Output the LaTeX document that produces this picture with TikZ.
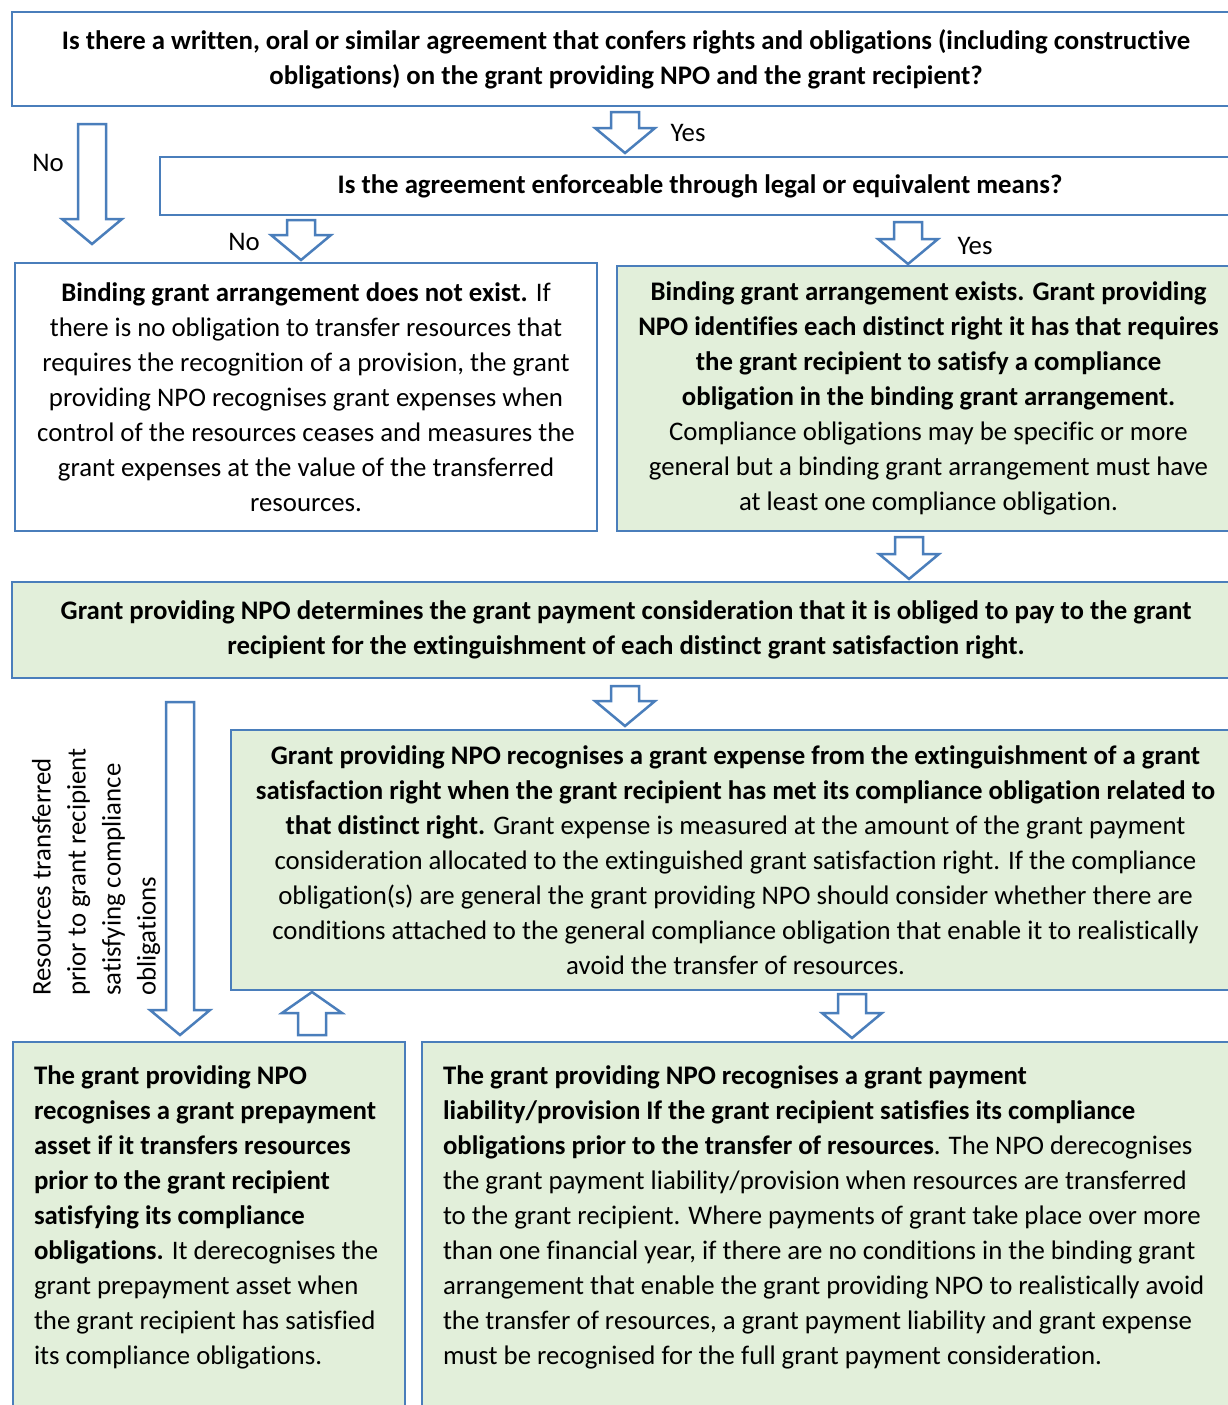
\documentclass[tikz,border=0pt]{standalone}
\usepackage{fontspec}
\setmainfont{Carlito}[Ligatures=NoCommon]
\usetikzlibrary{calc}

\definecolor{boxblue}{HTML}{4A7EBB}
\definecolor{boxgreen}{HTML}{E2EFDA}

% hollow block arrow pointing down: centre x, top y, target node, gap above target
\newcommand{\blockdown}[4]{%
  \draw[blockarrow] let \p1=(#1,#2), \p2=(#3.north) in
    (\x1-14pt,\y1) -- (\x1+14pt,\y1) -- (\x1+14pt,\y2+#4pt+25pt)
    -- (\x1+30pt,\y2+#4pt+25pt) -- (\x1,\y2+#4pt) -- (\x1-30pt,\y2+#4pt+25pt)
    -- (\x1-14pt,\y2+#4pt+25pt) -- cycle;}

\begin{document}
\begin{tikzpicture}[x=1pt,y=-1pt,
  box/.style={draw=boxblue,line width=2pt,inner sep=0pt,align=center,font=\fontsize{26.8}{35}\selectfont},
  question/.style={box,fill=white,font=\fontsize{26.8}{35}\selectfont\bfseries},
  whitebox/.style={box,fill=white},
  greenbox/.style={box,fill=boxgreen},
  longbox/.style={draw=boxblue,line width=2pt,fill=boxgreen,inner sep=0pt,anchor=north west,font=\fontsize{26.8}{35}\selectfont},
  answer/.style={inner sep=0pt,font=\fontsize{26.8}{35}\selectfont},
  blockarrow/.style={draw=boxblue,line width=2.5pt,fill=white,line join=miter}]
\path[use as bounding box] (0,0) rectangle (1228,1405);
\clip (0,0) rectangle (1228,1405);
\fill[white] (0,0) rectangle (1228,1405);

\node[question,minimum width=1228pt,minimum height=94pt] (agree) at (626,59)
  {Is there a written, oral or similar agreement that confers rights and obligations (including constructive\\
   obligations) on the grant providing NPO and the grant recipient?};
\node[question,minimum width=1080pt,minimum height=58pt] (enforce) at (700,186)
  {Is the agreement enforceable through legal or equivalent means?};

\node[whitebox,minimum width=582pt,minimum height=268pt] (noexist) at (306,397)
  {\textbf{Binding grant arrangement does not exist.} If\\
   there is no obligation to transfer resources that\\
   requires the recognition of a provision, the grant\\
   providing NPO recognises grant expenses when\\
   control of the resources ceases and measures the\\
   grant expenses at the value of the transferred\\
   resources.};
\node[greenbox,minimum width=623pt,minimum height=265pt] (exist) at (928.5,398.5)
  {\textbf{Binding grant arrangement exists. Grant providing}\\
   \textbf{NPO identifies each distinct right it has that requires}\\
   \textbf{the grant recipient to satisfy a compliance}\\
   \textbf{obligation in the binding grant arrangement.}\\
   Compliance obligations may be specific or more\\
   general but a binding grant arrangement must have\\
   at least one compliance obligation.};

\node[greenbox,minimum width=1228pt,minimum height=96pt,font=\fontsize{26.8}{35}\selectfont\bfseries] (consid) at (626,630)
  {Grant providing NPO determines the grant payment consideration that it is obliged to pay to the grant\\
   recipient for the extinguishment of each distinct grant satisfaction right.};

\node[greenbox,minimum width=1009pt,minimum height=260pt] (expense) at (735.5,860)
  {\textbf{Grant providing NPO recognises a grant expense from the extinguishment of a grant}\\
   \textbf{satisfaction right when the grant recipient has met its compliance obligation related to}\\
   \textbf{that distinct right.} Grant expense is measured at the amount of the grant payment\\
   consideration allocated to the extinguished grant satisfaction right. If the compliance\\
   obligation(s) are general the grant providing NPO should consider whether there are\\
   conditions attached to the general compliance obligation that enable it to realistically\\
   avoid the transfer of resources.};

\node[longbox,inner ysep=18pt] (prepay) at (12,1041)
  {\parbox[t][380pt][t]{392pt}{\raggedright\leftskip=21pt\strut
   \textbf{The grant providing NPO}\\
   \textbf{recognises a grant prepayment}\\
   \textbf{asset if it transfers resources}\\
   \textbf{prior to the grant recipient}\\
   \textbf{satisfying its compliance}\\
   \textbf{obligations.} It derecognises the\\
   grant prepayment asset when\\
   the grant recipient has satisfied\\
   its compliance obligations.}};
\node[longbox,inner ysep=18pt] (liab) at (421,1041)
  {\parbox[t][380pt][t]{819pt}{\raggedright\leftskip=21pt\strut
   \textbf{The grant providing NPO recognises a grant payment}\\
   \textbf{liability/provision If the grant recipient satisfies its compliance}\\
   \textbf{obligations prior to the transfer of resources}. The NPO derecognises\\
   the grant payment liability/provision when resources are transferred\\
   to the grant recipient. Where payments of grant take place over more\\
   than one financial year, if there are no conditions in the binding grant\\
   arrangement that enable the grant providing NPO to realistically avoid\\
   the transfer of resources, a grant payment liability and grant expense\\
   must be recognised for the full grant payment consideration.}};

% arrows between the boxes
\blockdown{92}{124}{noexist}{18}
\blockdown{625}{112}{enforce}{3}
\blockdown{301}{220}{noexist}{2}
\blockdown{908}{222}{exist}{1}
\blockdown{909}{537}{consid}{2}
\blockdown{625}{686}{expense}{3}
\blockdown{180}{702}{prepay}{6}
\blockdown{852}{994}{liab}{3}
\draw[blockarrow] let \p1=(312,0), \p2=(prepay.north), \p3=(expense.south) in
  (\x1-14pt,\y2+6pt) -- (\x1+14pt,\y2+6pt) -- (\x1+14pt,\y3-22pt) -- (\x1+30pt,\y3-22pt)
  -- (\x1,\y3-1pt) -- (\x1-30pt,\y3-22pt) -- (\x1-14pt,\y3-22pt) -- cycle;

\node[answer] (no1) at (48,163) {No};
\node[answer] (yes1) at (688,133) {Yes};
\node[answer] (no2) at (244,242) {No};
\node[answer] (yes2) at (975,246) {Yes};
\node[answer,rotate=90,anchor=west,align=left] (early) at (96,996)
  {Resources transferred\\prior to grant recipient\\satisfying compliance\\obligations};
\end{tikzpicture}
\end{document}
